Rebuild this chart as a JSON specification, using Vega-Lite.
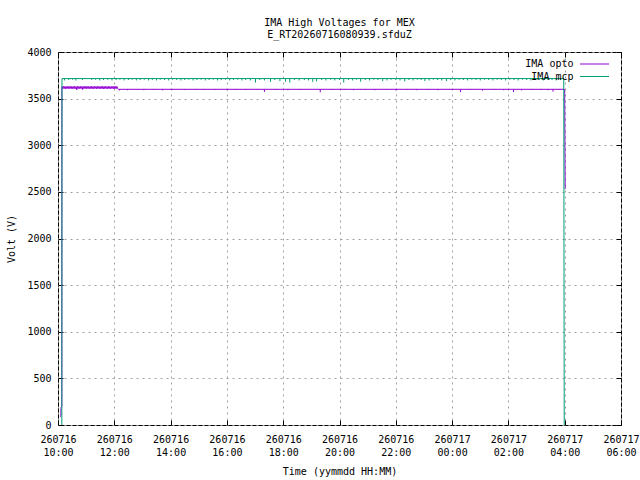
{
  "$schema": "https://vega.github.io/schema/vega-lite/v6.json",
  "width": 563,
  "height": 373,
  "autosize": {"type": "none"},
  "padding": {"left": 58, "top": 52, "right": 19, "bottom": 55},
  "background": "white",
  "title": {
    "text": ["IMA High Voltages for MEX", "E_RT20260716080939.sfduZ"],
    "font": "DejaVu Sans Mono",
    "fontSize": 10,
    "fontWeight": "normal",
    "lineHeight": 12,
    "offset": 7,
    "anchor": "middle",
    "color": "black"
  },
  "config": {
    "view": {"stroke": "black", "strokeWidth": 1},
    "font": "DejaVu Sans Mono",
    "axis": {
      "labelFont": "DejaVu Sans Mono",
      "labelFontSize": 10,
      "labelColor": "black",
      "titleFont": "DejaVu Sans Mono",
      "titleFontSize": 10,
      "titleFontWeight": "normal",
      "titleColor": "black",
      "tickColor": "black",
      "gridColor": "#a0a0a0",
      "gridDash": [2, 4],
      "gridOpacity": 1,
      "domain": false
    },
    "legend": {
      "orient": "none",
      "legendX": 531,
      "legendY": 6.5,
      "direction": "vertical",
      "symbolType": "M-2.9,0H2.9",
      "symbolSize": 100,
      "symbolStrokeWidth": 1,
      "labelAlign": "right",
      "labelOffset": -26.5,
      "labelFont": "DejaVu Sans Mono",
      "labelFontSize": 10,
      "labelColor": "black",
      "padding": 0,
      "rowPadding": 1.5
    }
  },
  "datasets": {
    "lines": [
      {"t": "2026-07-16T10:06:00", "s": "IMA opto", "v": 85},
      {"t": "2026-07-16T10:06:20", "s": "IMA opto", "v": 190},
      {"t": "2026-07-16T10:08:10", "s": "IMA opto", "v": 195},
      {"t": "2026-07-16T10:08:20", "s": "IMA opto", "v": 3630},
      {"t": "2026-07-16T10:10:00", "s": "IMA opto", "v": 3608},
      {"t": "2026-07-16T10:11:30", "s": "IMA opto", "v": 3632},
      {"t": "2026-07-16T10:13:00", "s": "IMA opto", "v": 3606},
      {"t": "2026-07-16T10:14:30", "s": "IMA opto", "v": 3630},
      {"t": "2026-07-16T10:16:00", "s": "IMA opto", "v": 3607},
      {"t": "2026-07-16T10:17:30", "s": "IMA opto", "v": 3631},
      {"t": "2026-07-16T10:19:00", "s": "IMA opto", "v": 3606},
      {"t": "2026-07-16T10:20:30", "s": "IMA opto", "v": 3630},
      {"t": "2026-07-16T10:22:00", "s": "IMA opto", "v": 3608},
      {"t": "2026-07-16T10:23:30", "s": "IMA opto", "v": 3632},
      {"t": "2026-07-16T10:25:00", "s": "IMA opto", "v": 3607},
      {"t": "2026-07-16T10:26:30", "s": "IMA opto", "v": 3630},
      {"t": "2026-07-16T10:28:00", "s": "IMA opto", "v": 3606},
      {"t": "2026-07-16T10:29:30", "s": "IMA opto", "v": 3631},
      {"t": "2026-07-16T10:31:00", "s": "IMA opto", "v": 3608},
      {"t": "2026-07-16T10:32:30", "s": "IMA opto", "v": 3630},
      {"t": "2026-07-16T10:34:00", "s": "IMA opto", "v": 3606},
      {"t": "2026-07-16T10:35:30", "s": "IMA opto", "v": 3632},
      {"t": "2026-07-16T10:37:00", "s": "IMA opto", "v": 3607},
      {"t": "2026-07-16T10:38:30", "s": "IMA opto", "v": 3630},
      {"t": "2026-07-16T10:40:00", "s": "IMA opto", "v": 3595},
      {"t": "2026-07-16T10:41:30", "s": "IMA opto", "v": 3631},
      {"t": "2026-07-16T10:43:00", "s": "IMA opto", "v": 3606},
      {"t": "2026-07-16T10:44:30", "s": "IMA opto", "v": 3630},
      {"t": "2026-07-16T10:46:00", "s": "IMA opto", "v": 3608},
      {"t": "2026-07-16T10:47:30", "s": "IMA opto", "v": 3632},
      {"t": "2026-07-16T10:49:00", "s": "IMA opto", "v": 3607},
      {"t": "2026-07-16T10:50:30", "s": "IMA opto", "v": 3630},
      {"t": "2026-07-16T10:52:00", "s": "IMA opto", "v": 3598},
      {"t": "2026-07-16T10:53:30", "s": "IMA opto", "v": 3631},
      {"t": "2026-07-16T10:55:00", "s": "IMA opto", "v": 3606},
      {"t": "2026-07-16T10:56:30", "s": "IMA opto", "v": 3630},
      {"t": "2026-07-16T10:58:00", "s": "IMA opto", "v": 3608},
      {"t": "2026-07-16T10:59:30", "s": "IMA opto", "v": 3632},
      {"t": "2026-07-16T11:01:00", "s": "IMA opto", "v": 3607},
      {"t": "2026-07-16T11:02:30", "s": "IMA opto", "v": 3630},
      {"t": "2026-07-16T11:04:00", "s": "IMA opto", "v": 3606},
      {"t": "2026-07-16T11:05:30", "s": "IMA opto", "v": 3631},
      {"t": "2026-07-16T11:07:00", "s": "IMA opto", "v": 3608},
      {"t": "2026-07-16T11:08:30", "s": "IMA opto", "v": 3630},
      {"t": "2026-07-16T11:10:00", "s": "IMA opto", "v": 3606},
      {"t": "2026-07-16T11:11:30", "s": "IMA opto", "v": 3632},
      {"t": "2026-07-16T11:13:00", "s": "IMA opto", "v": 3607},
      {"t": "2026-07-16T11:14:30", "s": "IMA opto", "v": 3630},
      {"t": "2026-07-16T11:16:00", "s": "IMA opto", "v": 3606},
      {"t": "2026-07-16T11:17:30", "s": "IMA opto", "v": 3631},
      {"t": "2026-07-16T11:19:00", "s": "IMA opto", "v": 3608},
      {"t": "2026-07-16T11:20:30", "s": "IMA opto", "v": 3630},
      {"t": "2026-07-16T11:22:00", "s": "IMA opto", "v": 3606},
      {"t": "2026-07-16T11:23:30", "s": "IMA opto", "v": 3632},
      {"t": "2026-07-16T11:25:00", "s": "IMA opto", "v": 3607},
      {"t": "2026-07-16T11:26:30", "s": "IMA opto", "v": 3630},
      {"t": "2026-07-16T11:28:00", "s": "IMA opto", "v": 3606},
      {"t": "2026-07-16T11:29:30", "s": "IMA opto", "v": 3631},
      {"t": "2026-07-16T11:31:00", "s": "IMA opto", "v": 3608},
      {"t": "2026-07-16T11:32:30", "s": "IMA opto", "v": 3630},
      {"t": "2026-07-16T11:34:00", "s": "IMA opto", "v": 3606},
      {"t": "2026-07-16T11:35:30", "s": "IMA opto", "v": 3632},
      {"t": "2026-07-16T11:37:00", "s": "IMA opto", "v": 3607},
      {"t": "2026-07-16T11:38:30", "s": "IMA opto", "v": 3630},
      {"t": "2026-07-16T11:40:00", "s": "IMA opto", "v": 3606},
      {"t": "2026-07-16T11:41:30", "s": "IMA opto", "v": 3631},
      {"t": "2026-07-16T11:43:00", "s": "IMA opto", "v": 3608},
      {"t": "2026-07-16T11:44:30", "s": "IMA opto", "v": 3630},
      {"t": "2026-07-16T11:46:00", "s": "IMA opto", "v": 3606},
      {"t": "2026-07-16T11:47:30", "s": "IMA opto", "v": 3632},
      {"t": "2026-07-16T11:49:00", "s": "IMA opto", "v": 3607},
      {"t": "2026-07-16T11:50:30", "s": "IMA opto", "v": 3630},
      {"t": "2026-07-16T11:52:00", "s": "IMA opto", "v": 3606},
      {"t": "2026-07-16T11:53:30", "s": "IMA opto", "v": 3631},
      {"t": "2026-07-16T11:55:00", "s": "IMA opto", "v": 3608},
      {"t": "2026-07-16T11:56:30", "s": "IMA opto", "v": 3630},
      {"t": "2026-07-16T11:58:00", "s": "IMA opto", "v": 3606},
      {"t": "2026-07-16T11:59:30", "s": "IMA opto", "v": 3632},
      {"t": "2026-07-16T12:01:00", "s": "IMA opto", "v": 3607},
      {"t": "2026-07-16T12:02:30", "s": "IMA opto", "v": 3630},
      {"t": "2026-07-16T12:04:00", "s": "IMA opto", "v": 3606},
      {"t": "2026-07-16T12:05:30", "s": "IMA opto", "v": 3631},
      {"t": "2026-07-16T12:07:00", "s": "IMA opto", "v": 3608},
      {"t": "2026-07-16T12:09:00", "s": "IMA opto", "v": 3600},
      {"t": "2026-07-17T04:00", "s": "IMA opto", "v": 3600},
      {"t": "2026-07-17T04:01", "s": "IMA opto", "v": 2530},
      {"t": "2026-07-16T10:08:10", "s": "IMA mcp", "v": 0},
      {"t": "2026-07-16T10:08:30", "s": "IMA mcp", "v": 3715},
      {"t": "2026-07-17T03:58", "s": "IMA mcp", "v": 3715},
      {"t": "2026-07-17T03:59", "s": "IMA mcp", "v": 0}
    ],
    "spikes": [
      {"t": "2026-07-16T10:14", "s": "IMA mcp", "hi": 3715, "lo": 3695},
      {"t": "2026-07-16T10:23", "s": "IMA mcp", "hi": 3715, "lo": 3700},
      {"t": "2026-07-16T10:31", "s": "IMA mcp", "hi": 3715, "lo": 3703},
      {"t": "2026-07-16T10:38", "s": "IMA mcp", "hi": 3715, "lo": 3695},
      {"t": "2026-07-16T10:52", "s": "IMA mcp", "hi": 3715, "lo": 3700},
      {"t": "2026-07-16T11:12", "s": "IMA mcp", "hi": 3715, "lo": 3700},
      {"t": "2026-07-16T11:20", "s": "IMA mcp", "hi": 3715, "lo": 3703},
      {"t": "2026-07-16T11:29", "s": "IMA mcp", "hi": 3715, "lo": 3695},
      {"t": "2026-07-16T11:37", "s": "IMA mcp", "hi": 3715, "lo": 3700},
      {"t": "2026-07-16T11:46", "s": "IMA mcp", "hi": 3715, "lo": 3703},
      {"t": "2026-07-16T11:55", "s": "IMA mcp", "hi": 3715, "lo": 3695},
      {"t": "2026-07-16T12:04", "s": "IMA mcp", "hi": 3715, "lo": 3700},
      {"t": "2026-07-16T12:12", "s": "IMA mcp", "hi": 3715, "lo": 3703},
      {"t": "2026-07-16T12:21", "s": "IMA mcp", "hi": 3715, "lo": 3695},
      {"t": "2026-07-16T12:30", "s": "IMA mcp", "hi": 3715, "lo": 3700},
      {"t": "2026-07-16T12:38", "s": "IMA mcp", "hi": 3715, "lo": 3703},
      {"t": "2026-07-16T12:47", "s": "IMA mcp", "hi": 3715, "lo": 3695},
      {"t": "2026-07-16T12:55", "s": "IMA mcp", "hi": 3715, "lo": 3700},
      {"t": "2026-07-16T13:04", "s": "IMA mcp", "hi": 3715, "lo": 3703},
      {"t": "2026-07-16T13:13", "s": "IMA mcp", "hi": 3715, "lo": 3695},
      {"t": "2026-07-16T13:21", "s": "IMA mcp", "hi": 3715, "lo": 3700},
      {"t": "2026-07-16T13:30", "s": "IMA mcp", "hi": 3715, "lo": 3695},
      {"t": "2026-07-16T13:38", "s": "IMA mcp", "hi": 3715, "lo": 3703},
      {"t": "2026-07-16T13:47", "s": "IMA mcp", "hi": 3715, "lo": 3700},
      {"t": "2026-07-16T13:56", "s": "IMA mcp", "hi": 3715, "lo": 3695},
      {"t": "2026-07-16T14:04", "s": "IMA mcp", "hi": 3715, "lo": 3703},
      {"t": "2026-07-16T14:13", "s": "IMA mcp", "hi": 3715, "lo": 3700},
      {"t": "2026-07-16T14:22", "s": "IMA mcp", "hi": 3715, "lo": 3695},
      {"t": "2026-07-16T14:30", "s": "IMA mcp", "hi": 3715, "lo": 3700},
      {"t": "2026-07-16T14:39", "s": "IMA mcp", "hi": 3715, "lo": 3703},
      {"t": "2026-07-16T14:48", "s": "IMA mcp", "hi": 3715, "lo": 3695},
      {"t": "2026-07-16T14:56", "s": "IMA mcp", "hi": 3715, "lo": 3700},
      {"t": "2026-07-16T15:05", "s": "IMA mcp", "hi": 3715, "lo": 3703},
      {"t": "2026-07-16T15:14", "s": "IMA mcp", "hi": 3715, "lo": 3695},
      {"t": "2026-07-16T15:22", "s": "IMA mcp", "hi": 3715, "lo": 3700},
      {"t": "2026-07-16T15:31", "s": "IMA mcp", "hi": 3715, "lo": 3703},
      {"t": "2026-07-16T15:40", "s": "IMA mcp", "hi": 3715, "lo": 3695},
      {"t": "2026-07-16T15:48", "s": "IMA mcp", "hi": 3715, "lo": 3700},
      {"t": "2026-07-16T15:57", "s": "IMA mcp", "hi": 3715, "lo": 3703},
      {"t": "2026-07-16T16:06", "s": "IMA mcp", "hi": 3715, "lo": 3695},
      {"t": "2026-07-16T16:14", "s": "IMA mcp", "hi": 3715, "lo": 3700},
      {"t": "2026-07-16T16:23", "s": "IMA mcp", "hi": 3715, "lo": 3703},
      {"t": "2026-07-16T16:32", "s": "IMA mcp", "hi": 3715, "lo": 3695},
      {"t": "2026-07-16T16:40", "s": "IMA mcp", "hi": 3715, "lo": 3700},
      {"t": "2026-07-16T16:50", "s": "IMA mcp", "hi": 3715, "lo": 3695},
      {"t": "2026-07-16T17:01", "s": "IMA mcp", "hi": 3715, "lo": 3672},
      {"t": "2026-07-16T17:10", "s": "IMA mcp", "hi": 3715, "lo": 3700},
      {"t": "2026-07-16T17:20", "s": "IMA mcp", "hi": 3715, "lo": 3695},
      {"t": "2026-07-16T17:33", "s": "IMA mcp", "hi": 3715, "lo": 3680},
      {"t": "2026-07-16T17:42", "s": "IMA mcp", "hi": 3715, "lo": 3700},
      {"t": "2026-07-16T17:53", "s": "IMA mcp", "hi": 3715, "lo": 3688},
      {"t": "2026-07-16T18:05", "s": "IMA mcp", "hi": 3715, "lo": 3680},
      {"t": "2026-07-16T18:14", "s": "IMA mcp", "hi": 3715, "lo": 3672},
      {"t": "2026-07-16T18:24", "s": "IMA mcp", "hi": 3715, "lo": 3700},
      {"t": "2026-07-16T18:34", "s": "IMA mcp", "hi": 3715, "lo": 3695},
      {"t": "2026-07-16T18:45", "s": "IMA mcp", "hi": 3715, "lo": 3700},
      {"t": "2026-07-16T18:54", "s": "IMA mcp", "hi": 3715, "lo": 3695},
      {"t": "2026-07-16T19:03", "s": "IMA mcp", "hi": 3715, "lo": 3680},
      {"t": "2026-07-16T19:11", "s": "IMA mcp", "hi": 3715, "lo": 3685},
      {"t": "2026-07-16T19:22", "s": "IMA mcp", "hi": 3715, "lo": 3700},
      {"t": "2026-07-16T19:31", "s": "IMA mcp", "hi": 3715, "lo": 3695},
      {"t": "2026-07-16T19:41", "s": "IMA mcp", "hi": 3715, "lo": 3703},
      {"t": "2026-07-16T19:50", "s": "IMA mcp", "hi": 3715, "lo": 3695},
      {"t": "2026-07-16T20:00", "s": "IMA mcp", "hi": 3715, "lo": 3700},
      {"t": "2026-07-16T20:09", "s": "IMA mcp", "hi": 3715, "lo": 3672},
      {"t": "2026-07-16T20:19", "s": "IMA mcp", "hi": 3715, "lo": 3700},
      {"t": "2026-07-16T20:28", "s": "IMA mcp", "hi": 3715, "lo": 3695},
      {"t": "2026-07-16T20:36", "s": "IMA mcp", "hi": 3715, "lo": 3703},
      {"t": "2026-07-16T20:45", "s": "IMA mcp", "hi": 3715, "lo": 3682},
      {"t": "2026-07-16T20:55", "s": "IMA mcp", "hi": 3715, "lo": 3700},
      {"t": "2026-07-16T21:04", "s": "IMA mcp", "hi": 3715, "lo": 3695},
      {"t": "2026-07-16T21:13", "s": "IMA mcp", "hi": 3715, "lo": 3703},
      {"t": "2026-07-16T21:22", "s": "IMA mcp", "hi": 3715, "lo": 3700},
      {"t": "2026-07-16T21:32", "s": "IMA mcp", "hi": 3715, "lo": 3688},
      {"t": "2026-07-16T21:41", "s": "IMA mcp", "hi": 3715, "lo": 3695},
      {"t": "2026-07-16T21:50", "s": "IMA mcp", "hi": 3715, "lo": 3703},
      {"t": "2026-07-16T22:00", "s": "IMA mcp", "hi": 3715, "lo": 3700},
      {"t": "2026-07-16T22:09", "s": "IMA mcp", "hi": 3715, "lo": 3695},
      {"t": "2026-07-16T22:19", "s": "IMA mcp", "hi": 3715, "lo": 3684},
      {"t": "2026-07-16T22:28", "s": "IMA mcp", "hi": 3715, "lo": 3700},
      {"t": "2026-07-16T22:37", "s": "IMA mcp", "hi": 3715, "lo": 3695},
      {"t": "2026-07-16T22:46", "s": "IMA mcp", "hi": 3715, "lo": 3703},
      {"t": "2026-07-16T22:54", "s": "IMA mcp", "hi": 3715, "lo": 3700},
      {"t": "2026-07-16T23:02", "s": "IMA mcp", "hi": 3715, "lo": 3688},
      {"t": "2026-07-16T23:11", "s": "IMA mcp", "hi": 3715, "lo": 3695},
      {"t": "2026-07-16T23:20", "s": "IMA mcp", "hi": 3715, "lo": 3703},
      {"t": "2026-07-16T23:29", "s": "IMA mcp", "hi": 3715, "lo": 3700},
      {"t": "2026-07-16T23:38", "s": "IMA mcp", "hi": 3715, "lo": 3695},
      {"t": "2026-07-16T23:48", "s": "IMA mcp", "hi": 3715, "lo": 3688},
      {"t": "2026-07-16T23:57", "s": "IMA mcp", "hi": 3715, "lo": 3700},
      {"t": "2026-07-17T00:06", "s": "IMA mcp", "hi": 3715, "lo": 3695},
      {"t": "2026-07-17T00:15", "s": "IMA mcp", "hi": 3715, "lo": 3703},
      {"t": "2026-07-17T00:24", "s": "IMA mcp", "hi": 3715, "lo": 3700},
      {"t": "2026-07-17T00:33", "s": "IMA mcp", "hi": 3715, "lo": 3695},
      {"t": "2026-07-17T00:42", "s": "IMA mcp", "hi": 3715, "lo": 3703},
      {"t": "2026-07-17T00:51", "s": "IMA mcp", "hi": 3715, "lo": 3700},
      {"t": "2026-07-17T01:00", "s": "IMA mcp", "hi": 3715, "lo": 3695},
      {"t": "2026-07-17T01:09", "s": "IMA mcp", "hi": 3715, "lo": 3703},
      {"t": "2026-07-17T01:18", "s": "IMA mcp", "hi": 3715, "lo": 3700},
      {"t": "2026-07-17T01:27", "s": "IMA mcp", "hi": 3715, "lo": 3695},
      {"t": "2026-07-17T01:36", "s": "IMA mcp", "hi": 3715, "lo": 3703},
      {"t": "2026-07-17T01:45", "s": "IMA mcp", "hi": 3715, "lo": 3700},
      {"t": "2026-07-17T01:54", "s": "IMA mcp", "hi": 3715, "lo": 3695},
      {"t": "2026-07-17T02:03", "s": "IMA mcp", "hi": 3715, "lo": 3703},
      {"t": "2026-07-17T02:12", "s": "IMA mcp", "hi": 3715, "lo": 3700},
      {"t": "2026-07-17T02:21", "s": "IMA mcp", "hi": 3715, "lo": 3695},
      {"t": "2026-07-17T02:30", "s": "IMA mcp", "hi": 3715, "lo": 3703},
      {"t": "2026-07-17T02:39", "s": "IMA mcp", "hi": 3715, "lo": 3700},
      {"t": "2026-07-17T02:48", "s": "IMA mcp", "hi": 3715, "lo": 3695},
      {"t": "2026-07-17T02:57", "s": "IMA mcp", "hi": 3715, "lo": 3703},
      {"t": "2026-07-17T03:06", "s": "IMA mcp", "hi": 3715, "lo": 3700},
      {"t": "2026-07-17T03:15", "s": "IMA mcp", "hi": 3715, "lo": 3695},
      {"t": "2026-07-17T03:24", "s": "IMA mcp", "hi": 3715, "lo": 3703},
      {"t": "2026-07-17T03:33", "s": "IMA mcp", "hi": 3715, "lo": 3700},
      {"t": "2026-07-17T03:42", "s": "IMA mcp", "hi": 3715, "lo": 3695},
      {"t": "2026-07-17T03:51", "s": "IMA mcp", "hi": 3715, "lo": 3703},
      {"t": "2026-07-16T12:11", "s": "IMA opto", "hi": 3600, "lo": 3588},
      {"t": "2026-07-16T12:28", "s": "IMA opto", "hi": 3600, "lo": 3590},
      {"t": "2026-07-16T12:50", "s": "IMA opto", "hi": 3600, "lo": 3593},
      {"t": "2026-07-16T13:03", "s": "IMA opto", "hi": 3600, "lo": 3590},
      {"t": "2026-07-16T13:25", "s": "IMA opto", "hi": 3600, "lo": 3593},
      {"t": "2026-07-16T13:43", "s": "IMA opto", "hi": 3600, "lo": 3588},
      {"t": "2026-07-16T14:05", "s": "IMA opto", "hi": 3600, "lo": 3593},
      {"t": "2026-07-16T14:30", "s": "IMA opto", "hi": 3600, "lo": 3592},
      {"t": "2026-07-16T14:52", "s": "IMA opto", "hi": 3600, "lo": 3593},
      {"t": "2026-07-16T15:10", "s": "IMA opto", "hi": 3600, "lo": 3592},
      {"t": "2026-07-16T15:35", "s": "IMA opto", "hi": 3600, "lo": 3593},
      {"t": "2026-07-16T16:00", "s": "IMA opto", "hi": 3600, "lo": 3590},
      {"t": "2026-07-16T16:20", "s": "IMA opto", "hi": 3600, "lo": 3593},
      {"t": "2026-07-16T16:40", "s": "IMA opto", "hi": 3600, "lo": 3592},
      {"t": "2026-07-16T17:05", "s": "IMA opto", "hi": 3600, "lo": 3593},
      {"t": "2026-07-16T17:20", "s": "IMA opto", "hi": 3600, "lo": 3572},
      {"t": "2026-07-16T17:45", "s": "IMA opto", "hi": 3600, "lo": 3593},
      {"t": "2026-07-16T18:10", "s": "IMA opto", "hi": 3600, "lo": 3590},
      {"t": "2026-07-16T18:35", "s": "IMA opto", "hi": 3600, "lo": 3593},
      {"t": "2026-07-16T19:19", "s": "IMA opto", "hi": 3600, "lo": 3568},
      {"t": "2026-07-16T19:45", "s": "IMA opto", "hi": 3600, "lo": 3593},
      {"t": "2026-07-16T20:10", "s": "IMA opto", "hi": 3600, "lo": 3592},
      {"t": "2026-07-16T20:30", "s": "IMA opto", "hi": 3600, "lo": 3590},
      {"t": "2026-07-16T20:55", "s": "IMA opto", "hi": 3600, "lo": 3593},
      {"t": "2026-07-16T21:15", "s": "IMA opto", "hi": 3600, "lo": 3590},
      {"t": "2026-07-16T21:40", "s": "IMA opto", "hi": 3600, "lo": 3593},
      {"t": "2026-07-16T22:00", "s": "IMA opto", "hi": 3600, "lo": 3588},
      {"t": "2026-07-16T22:25", "s": "IMA opto", "hi": 3600, "lo": 3593},
      {"t": "2026-07-16T22:45", "s": "IMA opto", "hi": 3600, "lo": 3590},
      {"t": "2026-07-16T23:10", "s": "IMA opto", "hi": 3600, "lo": 3593},
      {"t": "2026-07-16T23:30", "s": "IMA opto", "hi": 3600, "lo": 3590},
      {"t": "2026-07-16T23:55", "s": "IMA opto", "hi": 3600, "lo": 3593},
      {"t": "2026-07-17T00:18", "s": "IMA opto", "hi": 3600, "lo": 3570},
      {"t": "2026-07-17T00:40", "s": "IMA opto", "hi": 3600, "lo": 3593},
      {"t": "2026-07-17T01:05", "s": "IMA opto", "hi": 3600, "lo": 3585},
      {"t": "2026-07-17T01:30", "s": "IMA opto", "hi": 3600, "lo": 3593},
      {"t": "2026-07-17T01:50", "s": "IMA opto", "hi": 3600, "lo": 3590},
      {"t": "2026-07-17T02:11", "s": "IMA opto", "hi": 3600, "lo": 3570},
      {"t": "2026-07-17T02:28", "s": "IMA opto", "hi": 3600, "lo": 3588},
      {"t": "2026-07-17T02:50", "s": "IMA opto", "hi": 3600, "lo": 3593},
      {"t": "2026-07-17T03:10", "s": "IMA opto", "hi": 3600, "lo": 3592},
      {"t": "2026-07-17T03:24", "s": "IMA opto", "hi": 3600, "lo": 3590},
      {"t": "2026-07-17T03:35", "s": "IMA opto", "hi": 3600, "lo": 3575},
      {"t": "2026-07-17T03:50", "s": "IMA opto", "hi": 3600, "lo": 3593}
    ]
  },
  "layer": [
    {
      "data": {"name": "lines"},
      "transform": [{"filter": "datum.s == 'IMA opto'"}],
      "mark": {"type": "line", "strokeWidth": 1},
      "encoding": {
        "x": {
          "field": "t",
          "type": "temporal",
          "scale": {
            "domain": [
              {"year": 2026, "month": 7, "date": 16, "hours": 10},
              {"year": 2026, "month": 7, "date": 17, "hours": 6}
            ],
            "nice": false
          },
          "axis": {
            "orient": "bottom",
            "values": [
              {"year": 2026, "month": 7, "date": 16, "hours": 10},
              {"year": 2026, "month": 7, "date": 16, "hours": 12},
              {"year": 2026, "month": 7, "date": 16, "hours": 14},
              {"year": 2026, "month": 7, "date": 16, "hours": 16},
              {"year": 2026, "month": 7, "date": 16, "hours": 18},
              {"year": 2026, "month": 7, "date": 16, "hours": 20},
              {"year": 2026, "month": 7, "date": 16, "hours": 22},
              {"year": 2026, "month": 7, "date": 17, "hours": 0},
              {"year": 2026, "month": 7, "date": 17, "hours": 2},
              {"year": 2026, "month": 7, "date": 17, "hours": 4},
              {"year": 2026, "month": 7, "date": 17, "hours": 6}
            ],
            "labelExpr": "[timeFormat(datum.value, '%y%m%d'), timeFormat(datum.value, '%H:%M')]",
            "labelLineHeight": 13,
            "labelFlush": false,
            "labelOverlap": false,
            "tickSize": -5,
            "labelPadding": 14,
            "title": "Time (yymmdd HH:MM)",
            "titlePadding": 9
          }
        },
        "y": {
          "field": "v",
          "type": "quantitative",
          "scale": {"domain": [0, 4000], "nice": false},
          "axis": {
            "orient": "left",
            "values": [0, 500, 1000, 1500, 2000, 2500, 3000, 3500, 4000],
            "format": "d",
            "tickSize": -5,
            "labelPadding": 12,
            "title": "Volt (V)",
            "titlePadding": 10
          }
        },
        "color": {
          "field": "s",
          "type": "nominal",
          "scale": {"domain": ["IMA opto", "IMA mcp"], "range": ["#9400d3", "#009e73"]},
          "legend": {"title": null}
        }
      }
    },
    {
      "data": {"name": "lines"},
      "transform": [{"filter": "datum.s == 'IMA mcp'"}],
      "mark": {"type": "line", "strokeWidth": 1},
      "encoding": {
        "x": {"field": "t", "type": "temporal", "axis": null},
        "y": {"field": "v", "type": "quantitative", "axis": null},
        "color": {"field": "s", "type": "nominal", "legend": {"title": null}}
      }
    },
    {
      "data": {"name": "spikes"},
      "mark": {"type": "rule", "strokeWidth": 1},
      "encoding": {
        "x": {
          "field": "t",
          "type": "temporal",
          "axis": {
            "orient": "top",
            "values": [
              {"year": 2026, "month": 7, "date": 16, "hours": 10},
              {"year": 2026, "month": 7, "date": 16, "hours": 12},
              {"year": 2026, "month": 7, "date": 16, "hours": 14},
              {"year": 2026, "month": 7, "date": 16, "hours": 16},
              {"year": 2026, "month": 7, "date": 16, "hours": 18},
              {"year": 2026, "month": 7, "date": 16, "hours": 20},
              {"year": 2026, "month": 7, "date": 16, "hours": 22},
              {"year": 2026, "month": 7, "date": 17, "hours": 0},
              {"year": 2026, "month": 7, "date": 17, "hours": 2},
              {"year": 2026, "month": 7, "date": 17, "hours": 4},
              {"year": 2026, "month": 7, "date": 17, "hours": 6}
            ],
            "labels": false,
            "grid": false,
            "tickSize": -5,
            "title": null
          }
        },
        "y": {
          "field": "hi",
          "type": "quantitative",
          "axis": {
            "orient": "right",
            "values": [0, 500, 1000, 1500, 2000, 2500, 3000, 3500, 4000],
            "labels": false,
            "grid": false,
            "tickSize": -5,
            "title": null
          }
        },
        "y2": {"field": "lo"},
        "color": {"field": "s", "type": "nominal", "legend": {"title": null}}
      }
    }
  ],
  "resolve": {"axis": {"x": "independent", "y": "independent"}}
}
